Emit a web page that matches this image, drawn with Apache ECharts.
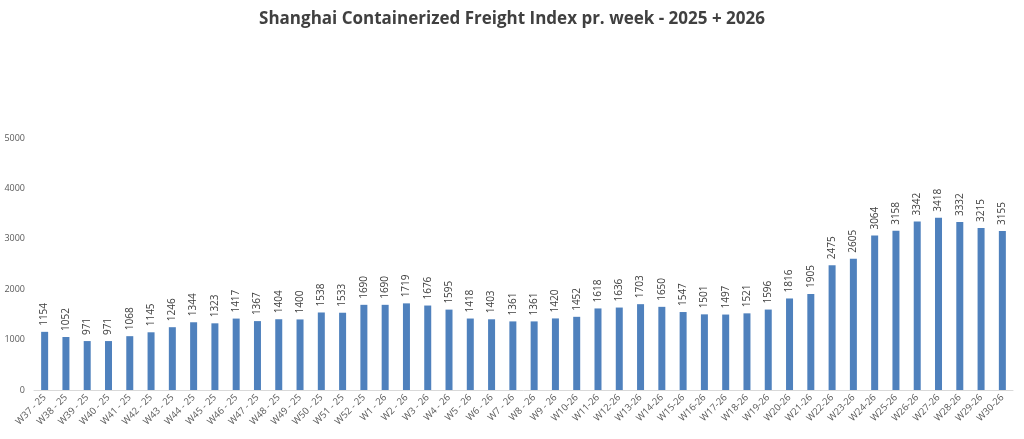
<!DOCTYPE html>
<html>
<head>
<meta charset="utf-8">
<script src="https://cdn.jsdelivr.net/npm/echarts@6/dist/echarts.min.js"></script>
<style>
  html, body { margin: 0; padding: 0; background: #fff; }
  #chart { width: 1024px; height: 439px; }
</style>
</head>
<body>
<div id="chart"></div>
<script>
var weeks = [
  "W37 - 25", "W38 - 25", "W39 - 25", "W40 - 25", "W41 - 25", "W42 - 25", "W43 - 25", "W44 - 25",
  "W45 - 25", "W46 - 25", "W47 - 25", "W48 - 25", "W49 - 25", "W50 - 25", "W51 - 25", "W52 - 25",
  "W1 - 26", "W2 - 26", "W3 - 26", "W4 - 26", "W5 - 26", "W6 - 26", "W7 - 26", "W8 - 26", "W9 - 26",
  "W10-26", "W11-26", "W12-26", "W13-26", "W14-26", "W15-26", "W16-26", "W17-26", "W18-26", "W19-26",
  "W20-26", "W21-26", "W22-26", "W23-26", "W24-26", "W25-26", "W26-26", "W27-26", "W28-26", "W29-26", "W30-26"
];
var scfi = [
  1154, 1052, 971, 971, 1068, 1145, 1246, 1344,
  1323, 1417, 1367, 1404, 1400, 1538, 1533, 1690,
  1690, 1719, 1676, 1595, 1418, 1403, 1361, 1361, 1420,
  1452, 1618, 1636, 1703, 1650, 1547, 1501, 1497, 1521, 1596,
  1816, 1905, 2475, 2605, 3064, 3158, 3342, 3418, 3332, 3215, 3155
];
var yTicks = { min: 0, max: 5000, step: 1000 };

var myChart = echarts.init(document.getElementById("chart"));
myChart.setOption({
  animation: false,
  textStyle: { fontFamily: "Open Sans" },
  title: {
    text: "Shanghai Containerized Freight Index pr. week - 2025 + 2026",
    left: "center",
    top: 6,
    textStyle: { fontSize: 17, fontWeight: "bold", color: "#404040", fontFamily: "Open Sans" }
  },
  grid: { left: 34, right: 11, top: 138, bottom: 49, containLabel: false },
  xAxis: {
    type: "category",
    data: weeks,
    axisLine: { lineStyle: { color: "#d9d9d9" } },
    axisTick: { show: false },
    axisLabel: { interval: 0, rotate: 45, fontSize: 9.5, color: "#595959", margin: 6 }
  },
  yAxis: {
    type: "value",
    min: yTicks.min,
    max: yTicks.max,
    interval: yTicks.step,
    splitLine: { show: false },
    axisLine: { show: false },
    axisTick: { show: false },
    axisLabel: {
      fontSize: 9,
      color: "#595959",
      margin: 9,
      formatter: function (v) { return String(v); }
    }
  },
  series: [
    {
      name: "SCFI",
      type: "bar",
      data: scfi,
      barWidth: 7,
      itemStyle: { color: "#4f81bd" },
      label: {
        show: true,
        position: "top",
        rotate: 90,
        align: "left",
        verticalAlign: "middle",
        distance: 6,
        fontSize: 10,
        color: "#404040"
      }
    }
  ]
});
</script>
</body>
</html>
